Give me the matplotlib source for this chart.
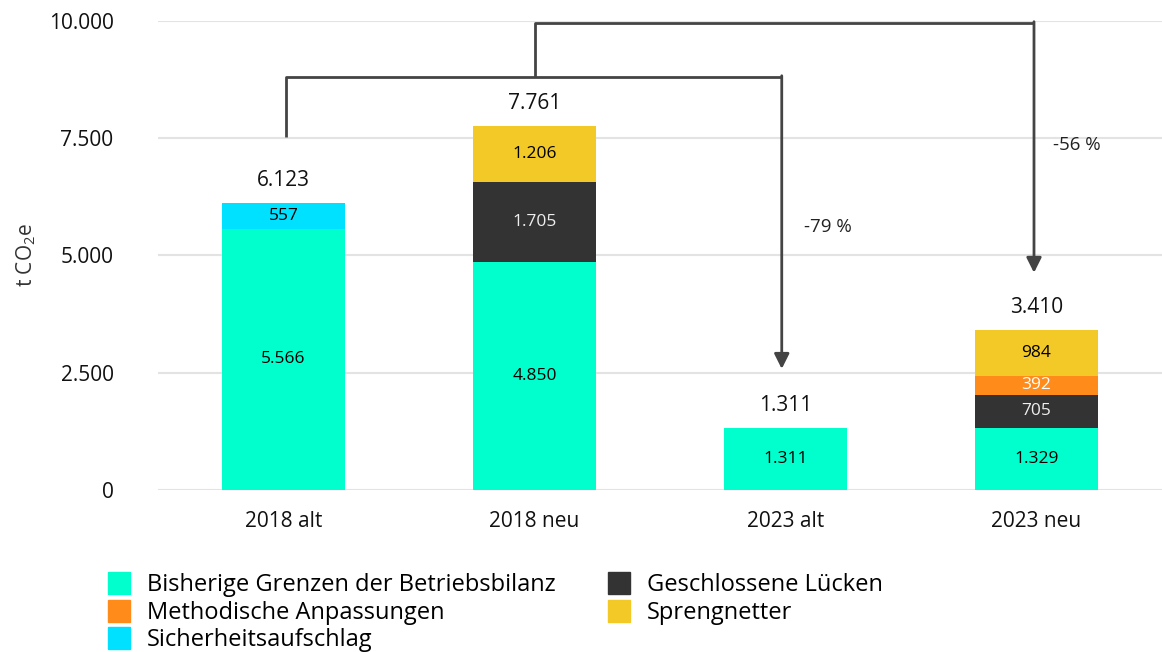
import numpy as np
import matplotlib
matplotlib.use("Agg")
from matplotlib import pyplot as plt
from matplotlib.patches import Patch

plt.rcParams['font.family'] = ['Open Sans', 'DejaVu Sans']
plt.rcParams['mathtext.default'] = 'regular'

# data
kategorien = ["2018 alt", "2018 neu", "2023 alt", "2023 neu"]
bisherige = [5566, 4850, 1311, 1329]
geschlossen = [0, 1705, 0, 705]
methodisch = [0, 0, 0, 392]
sprengnetter = [0, 1206, 0, 984]
sicherheit = [557, 0, 0, 0]
summen = [6123, 7761, 1311, 3410]
prozente = ["-79 %", "-56 %"]

farben = {
    "Bisherige Grenzen der Betriebsbilanz": "#00FFCC",
    "Geschlossene Lücken": "#333333",
    "Methodische Anpassungen": "#FF8C1A",
    "Sprengnetter": "#F2C926",
    "Sicherheitsaufschlag": "#00E0FF",
}

fig = plt.figure(figsize=(11.62, 6.52), dpi=100)
ax = fig.add_axes([0.136, 0.2485, 0.864, 0.7195])

x = np.arange(len(kategorien))
breite = 0.49

# stapel von unten nach oben, mit textfarbe
stapel = [
    (bisherige, "Bisherige Grenzen der Betriebsbilanz", "black"),
    (geschlossen, "Geschlossene Lücken", "#eeeeee"),
    (methodisch, "Methodische Anpassungen", "white"),
    (sprengnetter, "Sprengnetter", "black"),
    (sicherheit, "Sicherheitsaufschlag", "black"),
]

boden = np.zeros(len(kategorien))
for werte, name, tfarbe in stapel:
    werte = np.array(werte, dtype=float)
    ax.bar(x, werte, breite, bottom=boden, color=farben[name], zorder=2)
    for i, w in enumerate(werte):
        if w > 0:
            txt = f"{int(w):,}".replace(",", ".")
            ax.text(x[i], boden[i] + w / 2, txt, ha="center", va="center",
                    fontsize=12.5, color=tfarbe, zorder=3)
    boden += werte

for i, s in enumerate(summen):
    ax.text(x[i], s + 480, f"{s:,}".replace(",", "."), ha="center",
            va="center", fontsize=15, color="#111111")

# pfeile
lc = "#444444"
h1 = 8808
h2 = 9960
pfeil = dict(arrowstyle="-|>,head_length=0.9,head_width=0.45",
             color=lc, lw=2, shrinkA=0, shrinkB=0)
ax.plot([x[0] + 0.01, x[0] + 0.01, x[2] - 0.015], [summen[0] + 1405, h1, h1],
        color=lc, lw=2, zorder=4, solid_capstyle="butt")
ax.annotate("", xy=(x[2] - 0.015, summen[2] + 1270), xytext=(x[2] - 0.015, h1 + 22),
            arrowprops=pfeil, zorder=4)
ax.plot([x[1], x[1], x[3] - 0.01], [h1, h2, h2],
        color=lc, lw=2, zorder=4, solid_capstyle="butt")
ax.annotate("", xy=(x[3] - 0.01, summen[3] + 1220), xytext=(x[3] - 0.01, h2 + 22),
            arrowprops=pfeil, zorder=4)
ax.text(2.074, 5609, prozente[0], ha="left", va="center", fontsize=13.5, color="#222222")
ax.text(3.066, 7357, prozente[1], ha="left", va="center", fontsize=13.5, color="#222222")

ax.set_xlim(-0.5, 3.5)
ax.set_ylim(0, 10000)
ax.set_yticks([0, 2500, 5000, 7500, 10000])
ax.set_yticklabels(["0", "2.500", "5.000", "7.500", "10.000"])
ax.set_xticks(x)
ax.set_xticklabels(kategorien)
ax.tick_params(axis="both", length=0, labelsize=15, colors="#111111")
ax.tick_params(axis="x", pad=15)
ax.tick_params(axis="y", pad=32)
ax.grid(axis="y", color="#e3e3e3", lw=1.5, zorder=0)
ax.set_axisbelow(True)
for sp in ax.spines.values():
    sp.set_visible(False)
ax.set_ylabel("t CO$_2$e", fontsize=15, color="#333333", labelpad=8)

reihenfolge = ["Bisherige Grenzen der Betriebsbilanz", "Methodische Anpassungen",
               "Sicherheitsaufschlag", "Geschlossene Lücken", "Sprengnetter"]
griffe = [Patch(color=farben[n]) for n in reihenfolge]
fig.legend(griffe, reihenfolge, loc="upper left", bbox_to_anchor=(0.093, 0.122),
           ncol=2, frameon=False, fontsize=17, handlelength=0.95, handleheight=1.05,
           handletextpad=0.7, labelspacing=0.1, columnspacing=2.2,
           borderaxespad=0, borderpad=0)

fig.savefig("out.png", dpi=100)
